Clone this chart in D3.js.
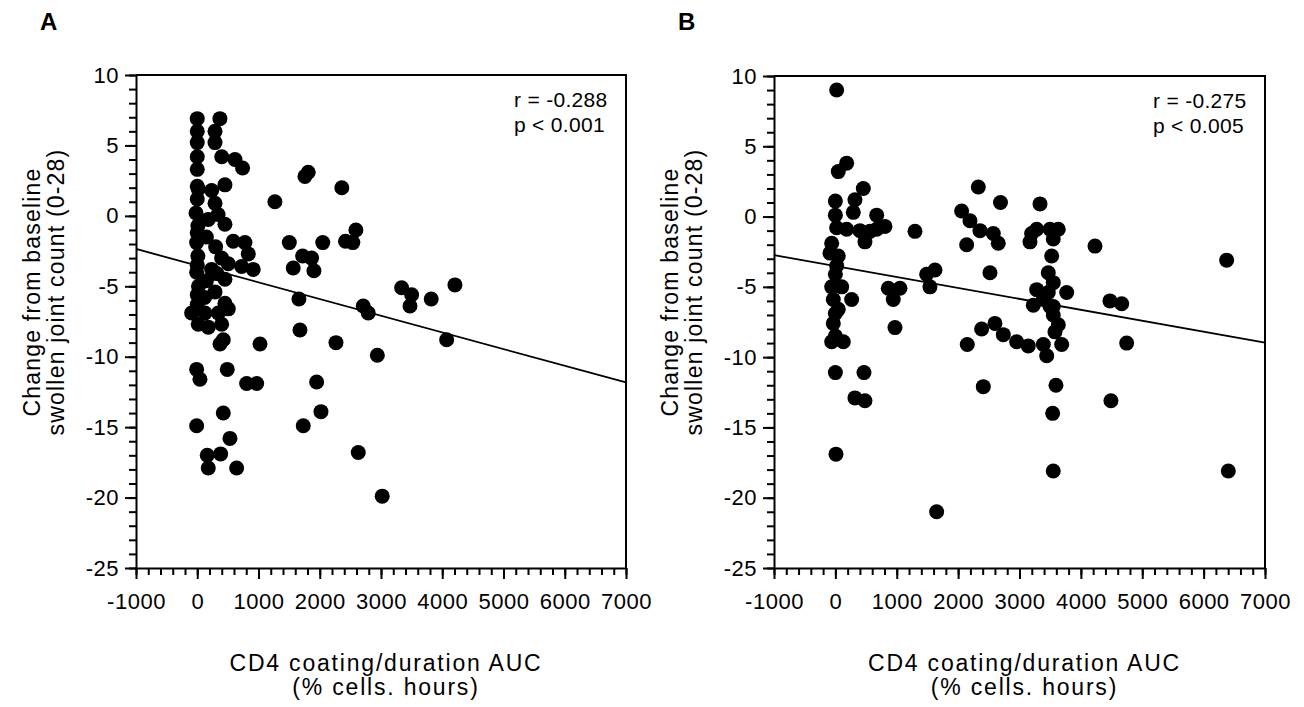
<!DOCTYPE html>
<html>
<head>
<meta charset="utf-8">
<script src="https://cdn.jsdelivr.net/npm/d3@7"></script>
<style>
  body { margin: 0; background: #fff; }
  text { font-family: "Liberation Sans", Arial, sans-serif; fill: #000; }
</style>
</head>
<body>
<div id="chart"></div>
<script>
// Panel A: CD4 coating AUC vs change in swollen joint count
const aucA = [
  0, 0, 0, 0, 0, 0, 16, 0, -20, 10, 0, -10, 10, 0, -10, 20, 0, -92, 16, 0, -10, 44, -10,
  370, 290, 290, 400, 616, 740, 235, 452, 290, 340, 452, 180, 588, 779, 833, 398, 506, 725, 914,
  235, 452, 290, 452, 126, 344, 507, 180, 398, 425, 371, 490, 806, 970, 425, 534, 163, 180, 382, 643,
  150, 300, 150, 320, 120,
  1268, 1812, 1758, 2360, 2590, 2420, 2540, 1503, 2049, 1567, 1720, 1867, 1905, 1660, 1677, 2265,
  1024, 1949, 1731, 2020, 2629, 2940, 3020, 2710, 2792, 3337, 3500, 3473, 3820, 4207, 4072
];
const changeA = [
  6.9, 6.0, 5.2, 4.2, 3.3, 2.1, 1.9, 1.2, 0.2, -0.7, -1.2, -1.9, -2.85, -3.5, -4.0, -5.0, -5.6, -6.9, -7.7, -6.3, -10.9, -11.6, -14.9,
  6.9, 6.0, 5.2, 4.2, 4.0, 3.4, 1.8, 2.2, 0.9, 0.1, -0.6, -0.25, -1.8, -1.9, -2.7, -3.0, -3.4, -3.6, -3.8,
  -3.8, -4.5, -5.4, -6.2, -6.9, -6.9, -6.6, -7.9, -7.7, -8.8, -9.1, -10.9, -11.9, -11.9, -14.0, -15.8, -17.0, -17.9, -16.9, -17.9,
  -1.5, -2.2, -4.6, -4.1, -5.8,
  1.0, 3.1, 2.8, 2.0, -1.0, -1.8, -1.9, -1.9, -1.9, -3.7, -2.85, -3.0, -3.9, -5.9, -8.1, -9.0,
  -9.1, -11.8, -14.9, -13.9, -16.8, -9.9, -19.9, -6.4, -6.9, -5.1, -5.6, -6.4, -5.9, -4.9, -8.8
];

// Panel B
const aucB = [
  21, 184, 47, 455, 319, 0, 0, 292, 673, 808, 673, 564, 401, 482, 21, 184, -60, -88, 47, 21, 0, -60, 103,
  -34, 265, 47, 0, -34, 0, -60, 129, 0, 466, 319, 482, 10,
  1297, 862, 1052, 943, 971, 1487, 1623, 1541, 1650,
  2057, 2193, 2356, 2573, 2654, 2139, 2519, 2329, 2690,
  2149, 2383, 2600, 2736, 2953, 3143, 3388, 3443, 3687, 3578, 3632, 2410,
  3334, 3198, 3280, 3497, 3632, 3550, 3524, 3171, 4230, 6375,
  3469, 3550, 3280, 3469, 3769, 3388, 3550, 3225, 3497, 3550,
  4474, 4665, 4746, 3594, 4490, 3540, 3550, 6402
];
const changeB = [
  9.0, 3.8, 3.2, 2.0, 1.2, 1.1, 0.1, 0.3, 0.1, -0.7, -0.9, -1.05, -1.0, -1.8, -0.8, -0.9, -1.9, -2.6, -2.8, -3.5, -4.1, -5.0, -5.0,
  -5.9, -5.9, -6.6, -6.9, -7.6, -8.5, -8.9, -8.9, -11.1, -11.1, -12.9, -13.1, -16.9,
  -1.05, -5.1, -5.1, -5.9, -7.9, -4.1, -3.8, -5.0, -21.0,
  0.4, -0.3, -1.0, -1.2, -1.9, -2.0, -4.0, 2.1, 1.0,
  -9.1, -8.0, -7.6, -8.4, -8.9, -9.2, -9.1, -9.9, -9.1, -8.2, -7.7, -12.1,
  0.9, -1.2, -0.9, -0.9, -0.9, -1.6, -2.8, -1.8, -2.1, -3.1,
  -4.0, -4.7, -5.2, -5.4, -5.4, -5.9, -6.4, -6.3, -6.4, -7.0,
  -6.0, -6.2, -9.0, -12.0, -13.1, -14.0, -18.1, -18.1
];

// regression line end points (x = -1000 and x = 7000)
const fitX = [-1000, 7000];
const fitA = [-2.35, -11.83];
const fitB = [-2.74, -8.97];

const xMajor = [-1000, 0, 1000, 2000, 3000, 4000, 5000, 6000, 7000];
const yMajor = [10, 5, 0, -5, -10, -15, -20, -25];
const xMinor = d3.range(-1000, 7001, 200);
const yMinor = d3.range(-25, 11, 1);

const statsA = ["r = -0.288", "p < 0.001"];
const statsB = ["r = -0.275", "p < 0.005"];
const yTitle = ["Change from baseline", "swollen joint count (0-28)"];
const xTitle = ["CD4 coating/duration AUC", "(% cells. hours)"];

const svg = d3.select("#chart").append("svg")
  .attr("width", 1304)
  .attr("height", 707);

function drawPanel(opts) {
  const x = d3.scaleLinear().domain([-1000, 7000]).range([opts.left, opts.right]);
  const y = d3.scaleLinear().domain([-25, 10]).range([opts.bottom, opts.top]);
  const g = svg.append("g");
  const plain = d => String(d); // keep hyphen minus, no thousands comma

  // minor ticks
  g.append("g")
    .attr("transform", `translate(0,${opts.bottom})`)
    .call(d3.axisBottom(x).tickValues(xMinor).tickSize(7).tickFormat(""))
    .call(s => s.select(".domain").remove());
  g.append("g")
    .attr("transform", `translate(${opts.left},0)`)
    .call(d3.axisLeft(y).tickValues(yMinor).tickSize(7).tickFormat(""))
    .call(s => s.select(".domain").remove());

  // major ticks + labels
  g.append("g")
    .attr("transform", `translate(0,${opts.bottom})`)
    .call(d3.axisBottom(x).tickValues(xMajor).tickFormat(plain).tickSize(11).tickPadding(14).tickSizeOuter(0));
  g.append("g")
    .attr("transform", `translate(${opts.left},0)`)
    .call(d3.axisLeft(y).tickValues(yMajor).tickFormat(plain).tickSize(11).tickPadding(6).tickSizeOuter(0));

  g.selectAll(".tick line").attr("stroke", "#000").attr("stroke-width", 2);
  g.selectAll(".domain").attr("stroke", "#000").attr("stroke-width", 2);
  g.selectAll(".tick text")
    .attr("font-family", "Liberation Sans, Arial, sans-serif")
    .attr("font-size", 22)
    .attr("letter-spacing", 0.5);

  // frame top & right
  g.append("path")
    .attr("d", `M${opts.left},${opts.top}H${opts.right}V${opts.bottom}`)
    .attr("fill", "none")
    .attr("stroke", "#000")
    .attr("stroke-width", 2);

  // regression line
  g.append("line")
    .attr("x1", x(fitX[0])).attr("y1", y(opts.fit[0]))
    .attr("x2", x(fitX[1])).attr("y2", y(opts.fit[1]))
    .attr("stroke", "#000")
    .attr("stroke-width", 1.8);

  // points
  g.append("g")
    .selectAll("circle")
    .data(opts.xs.map((v, i) => [v, opts.ys[i]]))
    .enter()
    .append("circle")
    .attr("cx", d => x(d[0]))
    .attr("cy", d => y(d[1]))
    .attr("r", 7.5)
    .attr("fill", "#000");

  // r / p text
  g.append("g")
    .selectAll("text")
    .data(opts.stats)
    .enter()
    .append("text")
    .attr("x", opts.right - 112)
    .attr("y", (d, i) => opts.top + 32 + i * 25)
    .attr("font-size", 21)
    .attr("letter-spacing", 0.3)
    .text(d => d);

  // panel letter
  g.append("text")
    .attr("x", opts.left - 96)
    .attr("y", 30)
    .attr("font-size", 24)
    .attr("font-weight", "bold")
    .text(opts.label);

  // y title
  const cy = 292;
  g.append("g")
    .selectAll("text")
    .data(yTitle)
    .enter()
    .append("text")
    .attr("transform", (d, i) => `translate(${opts.left - 96 + i * 24},${cy}) rotate(-90)`)
    .attr("text-anchor", "middle")
    .attr("font-size", 23)
    .attr("letter-spacing", 1.2)
    .text(d => d);

  // x title
  const cx = (opts.left + opts.right) / 2 + 5;
  g.append("g")
    .selectAll("text")
    .data(xTitle)
    .enter()
    .append("text")
    .attr("x", cx)
    .attr("y", (d, i) => 671 + i * 24)
    .attr("text-anchor", "middle")
    .attr("font-size", 23)
    .attr("letter-spacing", 1.8)
    .text(d => d);
}

drawPanel({ left: 136, right: 626, top: 75, bottom: 568, xs: aucA, ys: changeA, fit: fitA, stats: statsA, label: "A" });
drawPanel({ left: 774, right: 1265, top: 76, bottom: 568, xs: aucB, ys: changeB, fit: fitB, stats: statsB, label: "B" });
</script>
</body>
</html>
